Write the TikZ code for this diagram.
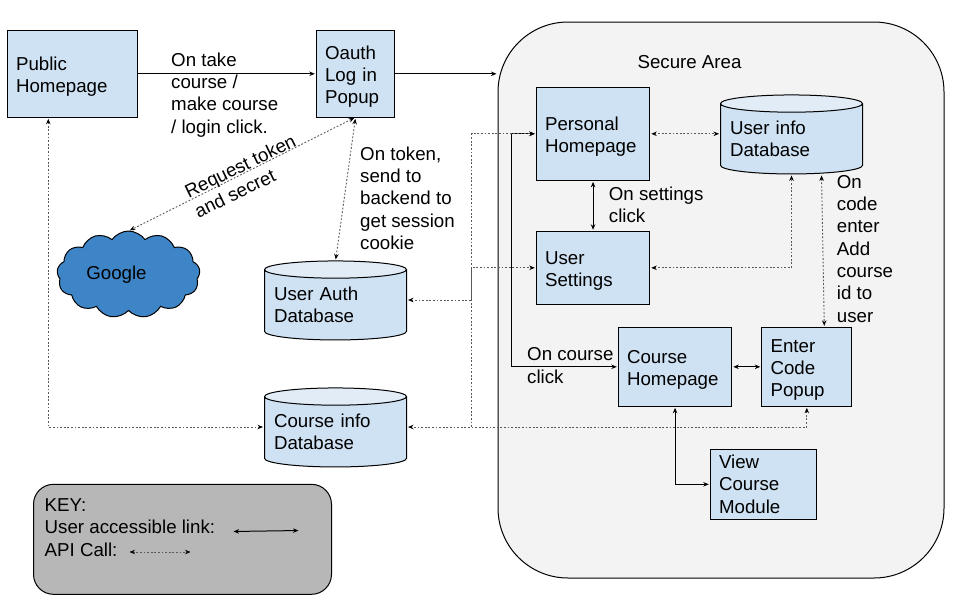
\documentclass[tikz,border=0pt]{standalone}
\usepackage{fontspec}
\setmainfont{Liberation Sans}
\usepackage{xcolor}
\usetikzlibrary{arrows.meta,positioning,calc,shapes.geometric,shapes.symbols}
\definecolor{cBox}{HTML}{CFE2F3}
\definecolor{cTop}{HTML}{E1ECF7}
\definecolor{cCloud}{HTML}{3D85C6}
\definecolor{cArea}{HTML}{F3F3F3}
\definecolor{cKey}{HTML}{B7B7B7}
\definecolor{cApi}{HTML}{595959}
\tikzset{
  box/.style args={#1x#2}{draw=black, line width=1pt, fill=cBox, text=black, align=left, outer sep=0pt,
              inner sep=0pt, minimum width=#1pt, minimum height=#2pt, text width=#1pt-17.5pt},
  nudge/.style={execute at begin node=\rule{0pt}{19.2pt}},
  dbase/.style={cylinder, shape border rotate=90, aspect=0.14, draw=black, line width=1pt,
              cylinder uses custom fill, cylinder body fill=cBox, cylinder end fill=cTop, outer sep=0pt,
              align=left, inner sep=0pt, minimum width=142pt, minimum height=79pt, text width=123pt},
  lbl/.style={align=left, inner sep=0pt, text=black},
  area/.style={draw=black, line width=1pt, outer sep=0pt},
  link/.style={{Stealth[length=5.5pt,width=4.5pt]}-{Stealth[length=5.5pt,width=4.5pt]}, line width=1pt,
              draw=black, shorten <=1.5pt, shorten >=1.5pt},
  flow/.style={-{Stealth[length=5.5pt,width=4.5pt]}, line width=1pt, draw=black, shorten >=1.5pt},
  api/.style={{Stealth[length=5.5pt,width=4.5pt,black]}-{Stealth[length=5.5pt,width=4.5pt,black]},
              line width=0.9pt, draw=cApi, dash pattern=on 1.8pt off 1.8pt, shorten <=1.5pt, shorten >=1.5pt},
  apione/.style={api, -{Stealth[length=5.5pt,width=4.5pt,black]}, shorten <=0pt},
}

\begin{document}
\begin{tikzpicture}[x=1pt,y=-1pt,font=\fontsize{18.7}{22.3}\selectfont]
  \useasboundingbox (0,0) rectangle (960,600);
  \node[area, fill=cArea, rounded corners=70pt, minimum width=446pt, minimum height=556pt] (secure) at (721,300) {};
  \node[area, fill=cKey, rounded corners=20pt, minimum width=298pt, minimum height=110pt] (key) at (182.5,539.3) {};

  \node[box=130x87, nudge, anchor=north west] (public) at (7.3,30.3) {Public\\Homepage};
  \node[box=78.5x87, nudge, right=179pt of public] (oauth) {Oauth\\Log in\\Popup};
  \node[box=113.5x93, nudge, anchor=north west] (personal) at (536.3,87.3) {Personal\\Homepage};
  \node[box=113.5x73, nudge, below=51pt of personal] (settings) {User\\Settings};
  \node[box=113.5x79, nudge, anchor=north west] (course) at (618.3,327.3) {Course\\Homepage};
  \node[box=90x79, nudge, right=30pt of course] (enter) {Enter\\Code\\Popup};
  \node[box=106.5x70, anchor=north west] (view) at (710.3,449.3) {View\\Course\\Module};
  \node[dbase] (userinfo) at (791.5,139) {User info\\Database};
  \node[dbase] (userauth) at (335.5,305) {User Auth\\Database};
  \node[dbase] (courseinfo) at (335.5,432) {Course info\\Database};
  \node[cloud, cloud puffs=13, cloud puff arc=110, aspect=1.7, draw=black, line width=1pt, fill=cCloud, inner sep=0pt,
        outer sep=0pt, minimum width=143pt, minimum height=87pt] (google) at (128.5,274.5) {Google\rule{24pt}{0pt}};

  \coordinate (trunk) at (471.7,300);
  \coordinate (bus) at (471.7,427);

  \draw[flow] (public.east)--(oauth.west);
  \draw[flow] (oauth.east)--(oauth.east -| secure.west);
  \draw[link] (personal.south)--(settings.north);
  \draw[link] (personal.west)--++(-25,0) |- (course.west);
  \draw[link] (course.east)--(enter.west);
  \draw[link] (course.south) |- (view.west);

  \draw[api] ([xshift=-24pt]public.south) |- (bus -| courseinfo.west);
  \draw[api] (oauth.south)--(google.north);
  \draw[api] (oauth.south)--(userauth.north);
  \draw[api] (enter.south) |- (bus -| courseinfo.east);
  \draw[apione] (bus) |- (personal.west);
  \draw[api] (trunk -| userauth.east)--(trunk) |- (settings.west);
  \draw[api] (personal.east)--(personal.east -| userinfo.west);
  \draw[api] (settings.east) -| (userinfo.south);
  \draw[api] ([xshift=30pt]userinfo.south)--([xshift=17.5pt]enter.north);

  \node[lbl, nudge, anchor=west] (ltake) at (171,95) {On take\\course /\\make course\\/ login click.};
  \node[lbl, anchor=west] (ltoken) at (360,198.2) {On token,\\send to\\backend to\\get session\\cookie};
  \node[lbl, rotate=26] (lreq) at (245,176) {Request token\\and secret};
  \node[lbl] (lsecure) at (689.5,62) {Secure Area};
  \node[lbl, anchor=west] (lsettings) at (608.7,205) {On settings\\click};
  \node[lbl, anchor=west] (lcode) at (836.7,248.7) {On\\code\\enter\\Add\\course\\id to\\user};
  \node[lbl, anchor=west] (lcourse) at (527,365.5) {On course\\click};

  \node[lbl, anchor=north west] (keytext) at (44.5,498.5) {KEY:\\User accessible link:\\API Call:};
  \coordinate (ka) at (232,531.5);
  \coordinate (kb) at (300,530.5);
  \coordinate (kc) at (128,552);
  \coordinate (kd) at (192,552);
  \draw[link] (ka)--(kb);
  \draw[api] (kc)--(kd);
\end{tikzpicture}
\end{document}
